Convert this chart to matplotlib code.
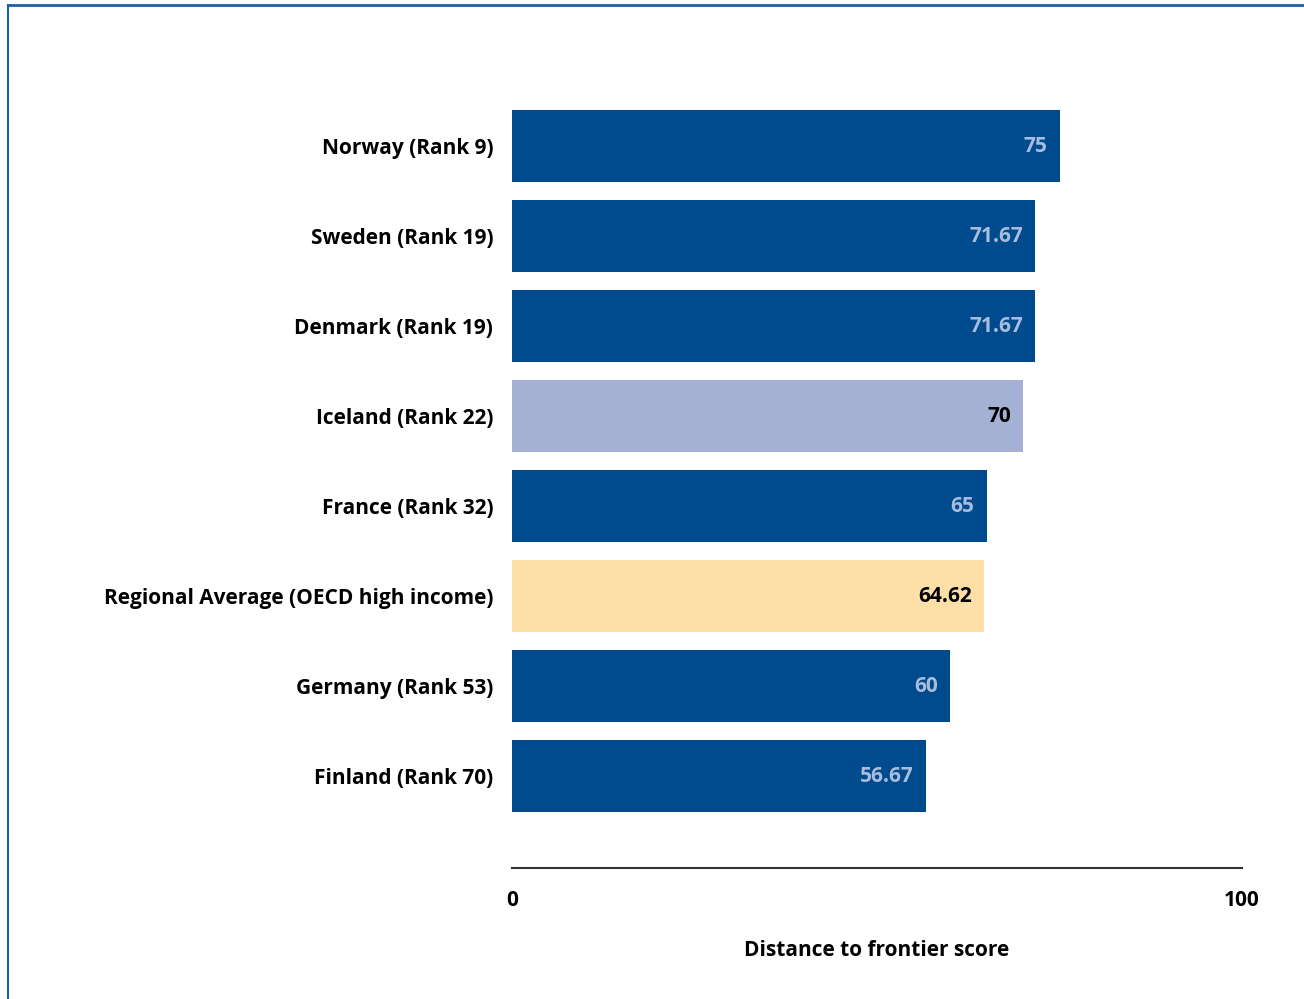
import matplotlib.pyplot as plt
from matplotlib.lines import Line2D

countries = ["Norway (Rank 9)", "Sweden (Rank 19)", "Denmark (Rank 19)",
             "Iceland (Rank 22)", "France (Rank 32)",
             "Regional Average (OECD high income)", "Germany (Rank 53)",
             "Finland (Rank 70)"]
scores = [75, 71.67, 71.67, 70, 65, 64.62, 60, 56.67]
score_labels = ["75", "71.67", "71.67", "70", "65", "64.62", "60", "56.67"]

dark = "#004B8D"
bar_colors = [dark, dark, dark, "#A5B1D4", dark, "#FFDFA8", dark, dark]
text_colors = ["#A9BCDD", "#A9BCDD", "#A9BCDD", "black", "#A9BCDD", "black",
               "#A9BCDD", "#A9BCDD"]

plt.rcParams['font.family'] = ['Open Sans', 'DejaVu Sans']
fs = 15

fig = plt.figure(figsize=(13.04, 9.99), dpi=100)
ax = fig.add_axes([512/1304, 131/999, 730/1304, 803/999])

ypos = list(range(len(countries)))
ax.barh(ypos, scores, height=0.8, color=bar_colors)
for y, v, lab, tc in zip(ypos, scores, score_labels, text_colors):
    ax.text(v - 1.65, y, lab, ha="right", va="center", fontsize=fs,
            fontweight="bold", color=tc)

ax.set_xlim(0, 100)
ax.set_ylim(8.02, -0.9)
ax.set_yticks(ypos)
ax.set_yticklabels(countries, fontsize=fs, fontweight="bold")
ax.tick_params(axis="y", length=0, pad=13.5)
ax.set_xticks([0, 100])
ax.set_xticklabels(["0", "100"], fontsize=fs, fontweight="bold")
ax.tick_params(axis="x", length=0, pad=15.5)
for s in ["top", "right", "left"]:
    ax.spines[s].set_visible(False)
ax.spines["bottom"].set_linewidth(1.5)
ax.spines["bottom"].set_color("#333333")
ax.set_xlabel("Distance to frontier score", fontsize=fs, fontweight="bold",
              labelpad=21)

# frame lines of the page
fig.add_artist(Line2D([8/1304, 1], [1 - 5/999, 1 - 5/999],
                      transform=fig.transFigure, color="#1F5FA8", lw=2))
fig.add_artist(Line2D([8/1304, 8/1304], [0, 1 - 5/999],
                      transform=fig.transFigure, color="#1F5FA8", lw=1.5))

fig.savefig("out.png", dpi=100)
